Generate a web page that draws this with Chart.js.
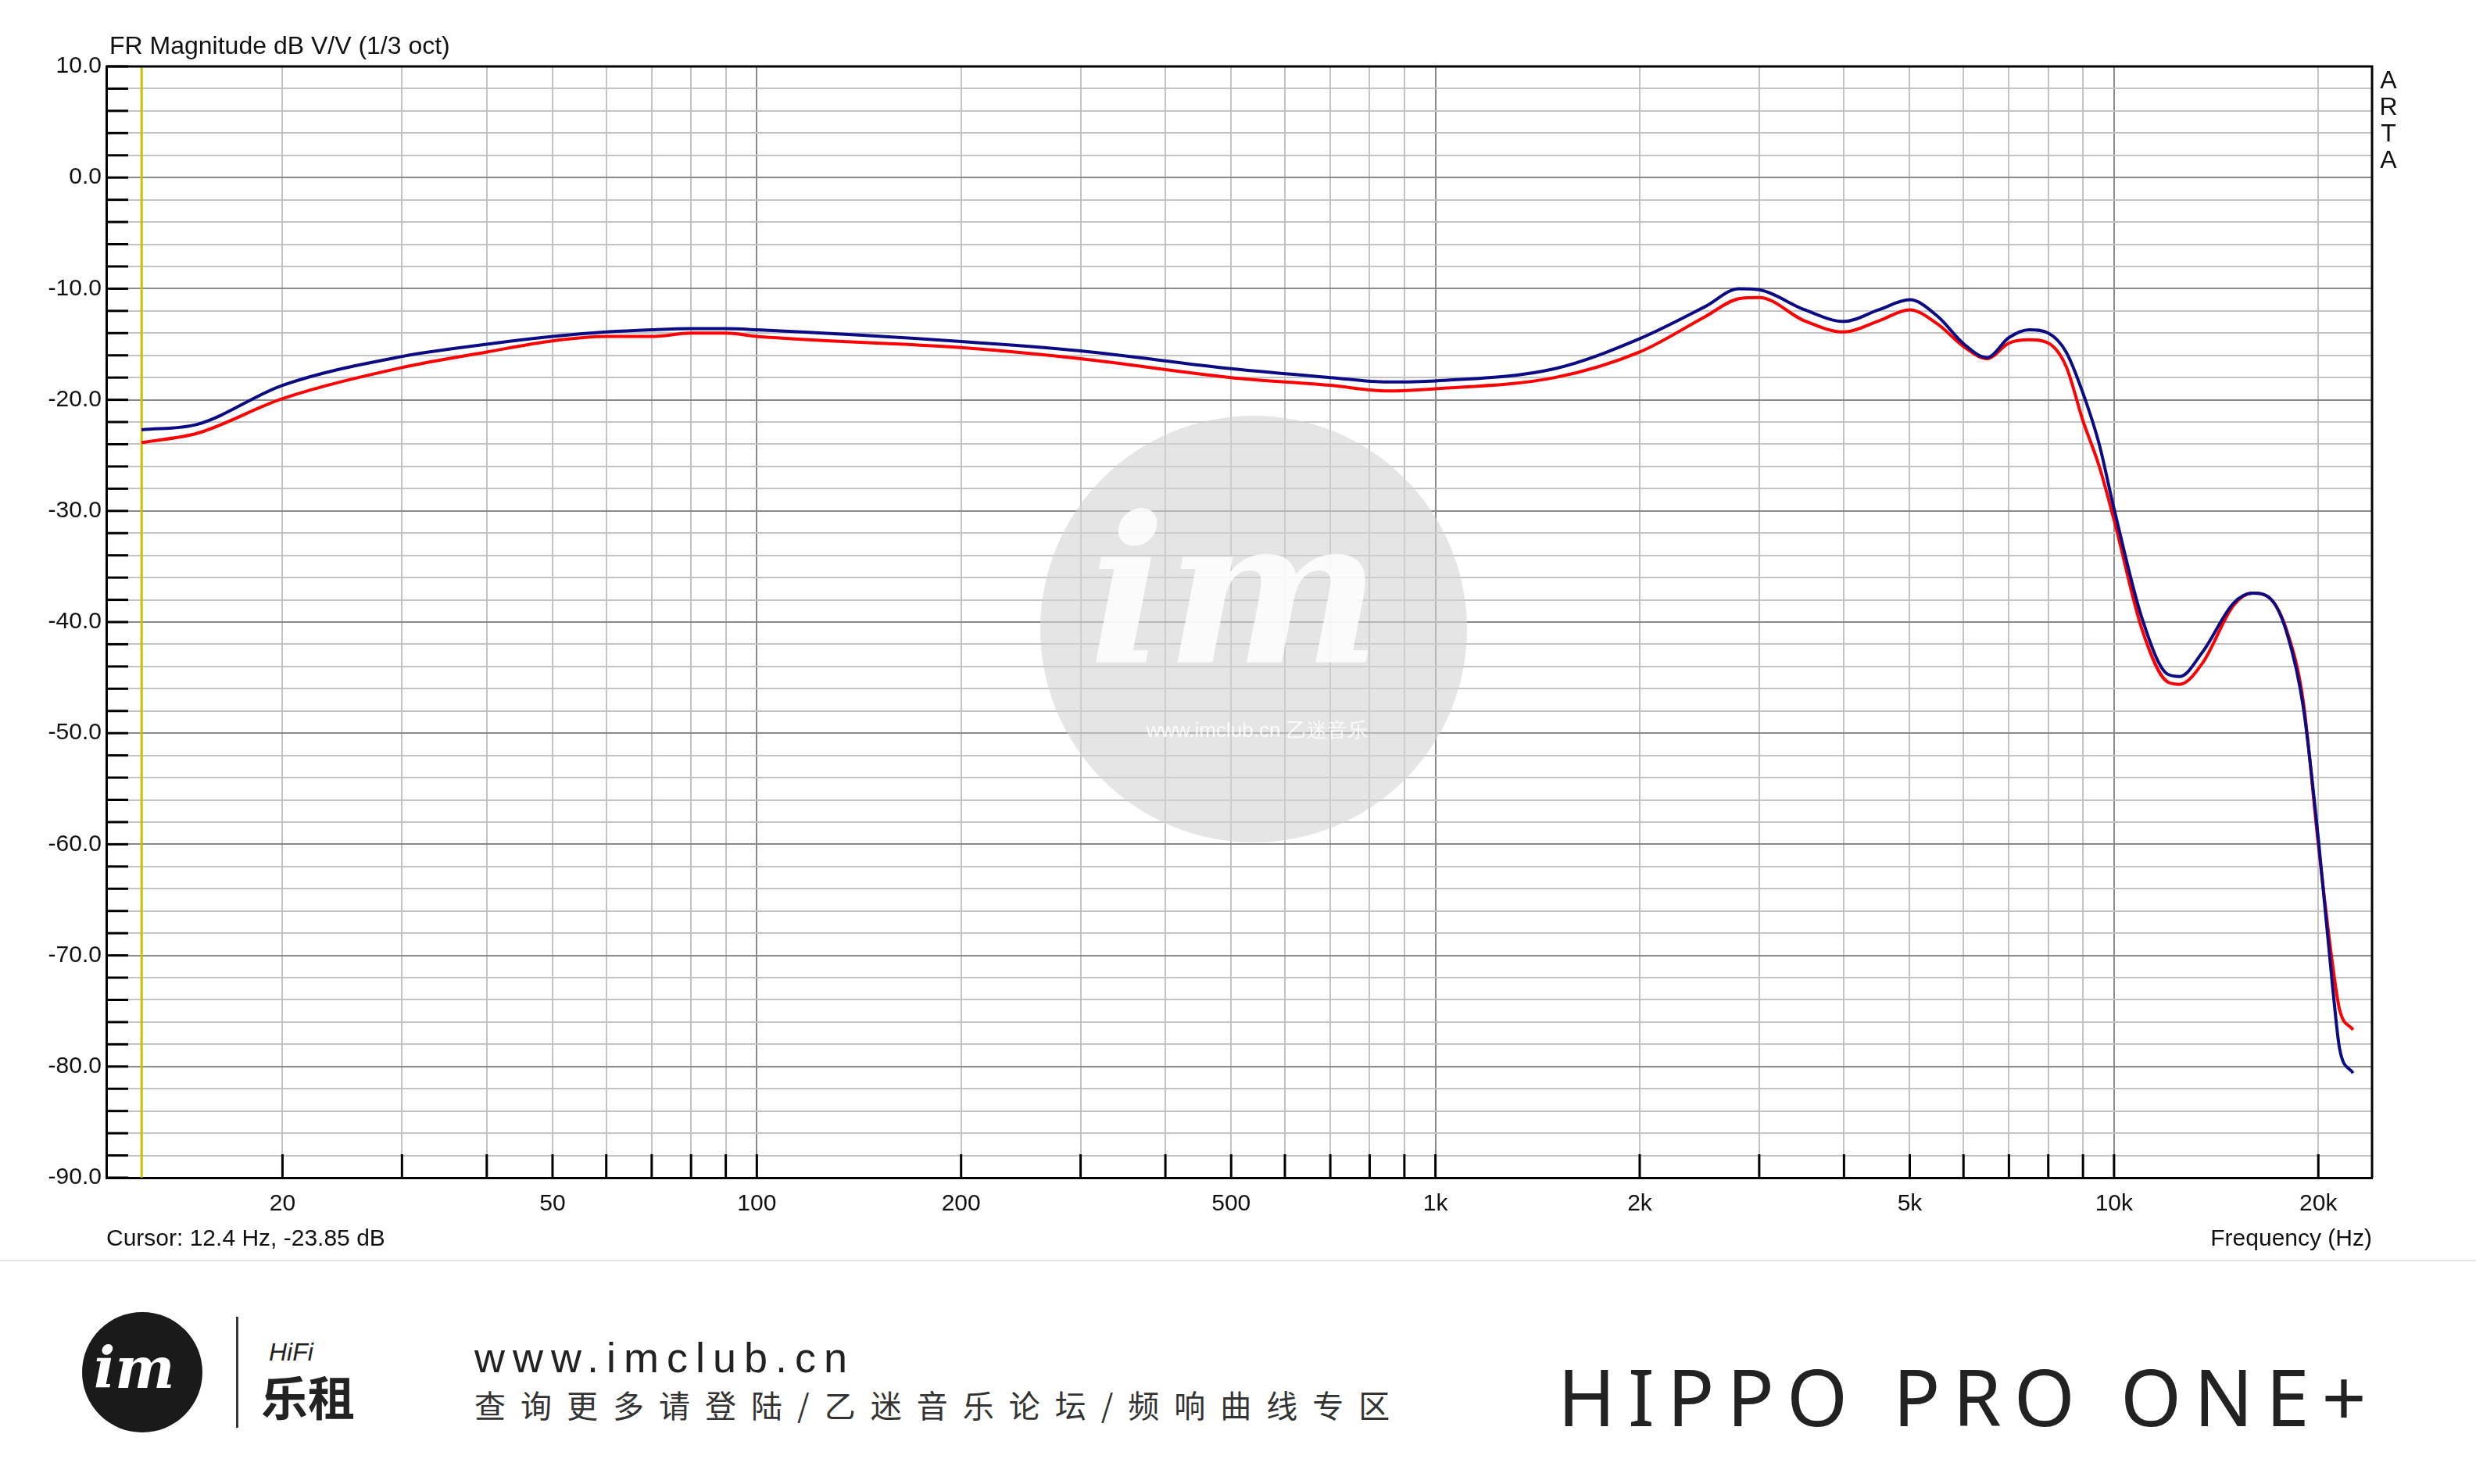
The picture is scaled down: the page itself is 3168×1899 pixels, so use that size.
<!DOCTYPE html>
<html>
<head>
<meta charset="utf-8">
<script src="https://cdn.jsdelivr.net/npm/chart.js@4.4.1/dist/chart.umd.min.js"></script>
<style>
  html, body { margin: 0; padding: 0; background: #fff; width: 3168px; height: 1899px; overflow: hidden; }
  #wrap { position: absolute; left: 0; top: 0; width: 3168px; height: 1610px; }
  .t { position: absolute; white-space: nowrap; font-family: "Liberation Sans", Arial, sans-serif; color: #111; }
</style>
</head>
<body>
<div id="wrap"><canvas id="fr"></canvas></div>

<div style="position:absolute;left:0;top:1612px;width:3168px;height:2px;background:#e4e4e4"></div>
<div style="position:absolute;left:105px;top:1679px;width:154px;height:154px;border-radius:50%;background:#1a1a1a"></div>
<div class="t" style="left:120px;top:1708px;font:italic bold 72px 'DejaVu Serif',serif;color:#fff">im</div>
<div style="position:absolute;left:302px;top:1685px;width:3px;height:142px;background:#333"></div>
<div class="t" style="left:344px;top:1712px;font:italic 32px 'Liberation Sans';color:#222">HiFi</div>
<div class="t" style="left:334px;top:1742px;font:bold 60px 'Noto Sans CJK SC';color:#222">乐租</div>
<div class="t" style="left:607px;top:1706px;font:500 54px 'Liberation Sans';letter-spacing:10px;color:#222">www.imclub.cn</div>
<div class="t" style="left:607px;top:1768px;font:40px 'Noto Sans CJK SC';letter-spacing:19px;color:#333">查询更多请登陆/乙迷音乐论坛/频响曲线专区</div>
<div class="t" style="left:1993px;top:1718px;font:400 100px 'Noto Sans';letter-spacing:16px;color:#222">HIPPO PRO ONE+</div>

<script>
// measurement frequencies (Hz)
const freqs = [12.4, 15, 20, 30, 40, 50, 60, 70, 80, 90, 100, 200, 300, 500, 700, 850, 1000, 1500, 2000,
  2500, 2800, 3000, 3500, 4000, 4500, 5000, 5500, 6000, 6500, 7000, 7500, 8000, 8500, 9000, 9500, 10000,
  11000, 12000, 12500, 13500, 15000, 16000, 17000, 18000, 19000, 20000, 21000, 21500, 22500];
const blueDb = [-22.7, -22.2, -18.7, -16.1, -15.0, -14.3, -13.9, -13.7, -13.6, -13.6, -13.7, -14.75, -15.6, -17.2, -18.0, -18.4, -18.3, -17.2, -14.5,
  -11.6, -10.0, -10.1, -11.9, -12.95, -11.9, -11.0, -12.5, -14.95, -16.2, -14.4, -13.7, -14.0, -15.7, -19.4, -23.9, -29.8,
  -39.7, -44.7, -44.9, -42.7, -38.3, -37.4, -37.9, -41.1, -47.6, -59.5, -72.9, -78.4, -80.6];
const redDb = [-23.85, -23.0, -19.9, -17.1, -15.7, -14.7, -14.3, -14.3, -14.0, -14.0, -14.3, -15.3, -16.3, -18.0, -18.7, -19.2, -19.0, -18.0, -15.7,
  -12.5, -10.9, -10.8, -12.9, -13.9, -12.9, -11.9, -13.2, -15.2, -16.3, -14.9, -14.6, -14.9, -17.0, -21.9, -25.9, -30.8,
  -40.7, -45.4, -45.6, -43.7, -38.5, -37.4, -37.9, -40.9, -47.1, -60.0, -70.9, -74.9, -76.7];
const xLabels = [20, 50, 100, 200, 500, 1000, 2000, 5000, 10000, 20000];
const yLabels = [10, 0, -10, -20, -30, -40, -50, -60, -70, -80, -90];
const cursorHz = 12.4;

const FONT = '"Liberation Sans", Arial, sans-serif';
const pts = arr => freqs.map((f, i) => ({ x: f, y: arr[i] }));
const fmtHz = v => v >= 1000 ? (v / 1000) + 'k' : String(v);

// gridlines at 1..9 x decade
const xTicks = [];
for (let d = 10; d <= 10000; d *= 10) for (let m = 1; m <= 9; m++) {
  const v = m * d; if (v >= 11 && v <= 24000) xTicks.push(v);
}
const yTicks = [];
for (let v = -90; v <= 10; v += 2) yTicks.push(v);

const decor = {
  id: 'decor',
  beforeDatasetsDraw(c) {
    const g = c.ctx, a = c.chartArea, xs = c.scales.x, ys = c.scales.y;
    // watermark
    g.save();
    g.fillStyle = 'rgba(212,212,212,0.6)';
    g.beginPath(); g.arc(1604, 805, 273, 0, Math.PI * 2); g.fill();
    g.fillStyle = 'rgba(255,255,255,0.85)';
    g.font = 'italic bold 260px "DejaVu Serif", serif';
    g.textAlign = 'center'; g.textBaseline = 'middle';
    g.fillText('im', 1580, 780);
    g.font = '26px ' + FONT;
    g.fillText('www.imclub.cn 乙迷音乐', 1608, 936);
    // cursor line
    g.strokeStyle = '#c8c000'; g.lineWidth = 3;
    const cx = xs.getPixelForValue(cursorHz);
    g.beginPath(); g.moveTo(cx, a.top); g.lineTo(cx, a.bottom); g.stroke();
    // inner tick marks
    g.strokeStyle = '#000'; g.lineWidth = 3;
    yTicks.forEach(v => { const y = ys.getPixelForValue(v); g.beginPath(); g.moveTo(a.left, y); g.lineTo(a.left + 28, y); g.stroke(); });
    xTicks.forEach(v => { const x = xs.getPixelForValue(v); g.beginPath(); g.moveTo(x, a.bottom); g.lineTo(x, a.bottom - 30); g.stroke(); });
    g.restore();
  },
  afterDraw(c) {
    const g = c.ctx, a = c.chartArea, xs = c.scales.x, ys = c.scales.y;
    g.save();
    g.fillStyle = '#111';
    g.font = '30px ' + FONT;
    g.textAlign = 'right'; g.textBaseline = 'middle';
    yLabels.forEach(v => g.fillText(v.toFixed(1), a.left - 6, ys.getPixelForValue(v)));
    g.textAlign = 'center';
    xLabels.forEach(v => g.fillText(fmtHz(v), xs.getPixelForValue(v), a.bottom + 34));
    g.textAlign = 'left';
    g.font = '32px ' + FONT;
    g.fillText('FR Magnitude dB V/V (1/3 oct)', 140, 60);
    g.font = '30px ' + FONT;
    g.fillText('Cursor: 12.4 Hz, -23.85 dB', a.left, 1586);
    g.textAlign = 'right';
    g.fillText('Frequency (Hz)', a.right, 1586);
    g.textAlign = 'center';
    g.font = '32px ' + FONT;
    ['A', 'R', 'T', 'A'].forEach((ch, i) => g.fillText(ch, 3056, 104 + i * 34));
    g.restore();
  }
};

new Chart(document.getElementById('fr'), {
  type: 'line',
  data: {
    datasets: [
      { data: pts(blueDb), borderColor: '#0b0b84', borderWidth: 4, pointRadius: 0, tension: 0.4, cubicInterpolationMode: 'monotone' },
      { data: pts(redDb), borderColor: '#ff0000', borderWidth: 4, pointRadius: 0, tension: 0.4, cubicInterpolationMode: 'monotone' }
    ]
  },
  options: {
    responsive: true, maintainAspectRatio: false, animation: false, devicePixelRatio: 1,
    layout: { padding: { left: 136, top: 85, right: 133, bottom: 103 } },
    plugins: { legend: { display: false }, tooltip: { enabled: false } },
    scales: {
      x: {
        type: 'logarithmic', min: 11, max: 24000,
        afterBuildTicks: s => { s.ticks = xTicks.map(v => ({ value: v })); },
        ticks: { display: false },
        grid: { drawTicks: false, lineWidth: 2, color: ctx => [100, 1000, 10000].includes(ctx.tick && ctx.tick.value) ? '#8a8a8a' : '#c4c4c4' },
        border: { display: true, color: '#000', width: 3 }
      },
      y: {
        min: -90, max: 10,
        afterBuildTicks: s => { s.ticks = yTicks.map(v => ({ value: v })); },
        ticks: { display: false },
        grid: { drawTicks: false, lineWidth: 2, color: ctx => (ctx.tick && ctx.tick.value % 10 === 0) ? '#8a8a8a' : '#c4c4c4' },
        border: { display: true, color: '#000', width: 3 }
      }
    }
  },
  plugins: [decor, {
    id: 'frame',
    afterDatasetsDraw(c) {
      const g = c.ctx, a = c.chartArea;
      g.save(); g.strokeStyle = '#000'; g.lineWidth = 3;
      g.beginPath(); g.moveTo(a.left, a.top); g.lineTo(a.right, a.top); g.lineTo(a.right, a.bottom); g.stroke();
      g.restore();
    }
  }]
});
</script>
</body>
</html>
